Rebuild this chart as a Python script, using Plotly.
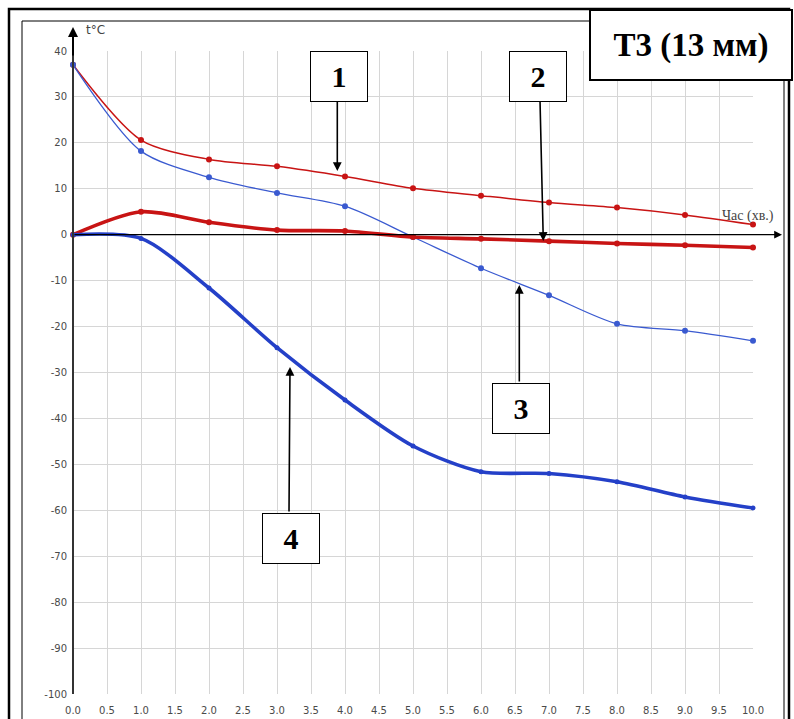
import plotly.graph_objects as go

# Time, minutes
time_min = [0, 1, 2, 3, 4, 5, 6, 7, 8, 9, 10]

# Temperatures, °C
curve_1 = [37.0, 20.6, 16.4, 14.9, 12.7, 10.1, 8.5, 7.0, 5.9, 4.3, 2.2]
curve_2 = [0.0, 5.0, 2.7, 1.0, 0.8, -0.5, -0.9, -1.4, -1.9, -2.3, -2.8]
curve_3 = [37.0, 18.2, 12.5, 9.1, 6.2, -0.5, -7.3, -13.2, -19.4, -20.9, -23.1]
curve_4 = [0.0, -0.8, -11.6, -24.6, -36.0, -46.0, -51.6, -52.0, -53.8, -57.1, -59.5]

x_ticks = [i * 0.5 for i in range(21)]
y_ticks = list(range(-100, 41, 10))

RED = "#c81414"
BLUE_THICK = "#2440c8"
BLUE_THIN = "#3a5ad0"

W, H = 794, 719
L, R, T, B = 73, 41, 51, 25
PW, PH = W - L - R, H - T - B


def px(x):
    return (x - L) / PW


def py(y):
    return (H - B - y) / PH


fig = go.Figure()

series = [
    (curve_1, RED, 1.5, 6),
    (curve_3, BLUE_THIN, 1.3, 6),
    (curve_2, RED, 3.6, 6),
    (curve_4, BLUE_THICK, 3.6, 5),
]
for vals, col, lw, ms in series:
    fig.add_trace(go.Scatter(
        x=time_min, y=vals, mode="lines+markers",
        line=dict(color=col, width=lw, shape="spline", smoothing=0.8),
        marker=dict(color=col, size=ms),
        showlegend=False, cliponaxis=False,
    ))

tick_font = dict(family="DejaVu Sans", size=10, color="#4a4a4a")
fig.update_xaxes(
    range=[0, 10], tickvals=x_ticks, ticktext=[f"{v:.1f}" for v in x_ticks],
    showgrid=True, gridcolor="#d6d6d6", gridwidth=1, zeroline=False,
    showline=False, ticks="outside", ticklen=7, tickcolor="rgba(0,0,0,0)",
    tickfont=tick_font, fixedrange=True, automargin=False,
)
fig.update_yaxes(
    range=[-100, 40], tickvals=y_ticks, ticktext=[str(v) for v in y_ticks],
    showgrid=True, gridcolor="#d6d6d6",
    gridwidth=1, zeroline=False, showline=False, ticks="outside", ticklen=3,
    tickcolor="rgba(0,0,0,0)", tickfont=tick_font, fixedrange=True,
    automargin=False,
)

shapes = []
# outer and inner frames
shapes.append(dict(type="rect", xref="paper", yref="paper",
                   x0=px(9), x1=px(789), y0=py(725), y1=py(9),
                   line=dict(color="black", width=2.5)))
shapes.append(dict(type="rect", xref="paper", yref="paper",
                   x0=px(22), x1=px(784), y0=py(725), y1=py(21),
                   line=dict(color="black", width=1)))
# vertical axis line
shapes.append(dict(type="line", xref="paper", yref="paper",
                   x0=0, x1=0, y0=0, y1=py(40),
                   line=dict(color="#333", width=2)))

annotations = []
# axis arrows
annotations.append(dict(xref="paper", yref="y", x=px(782), y=0, ax=-(782 - L), ay=0,
                        showarrow=True, arrowhead=2, arrowsize=1.3, arrowwidth=1.2,
                        arrowcolor="black", text=""))
annotations.append(dict(xref="paper", yref="paper", x=0, y=py(27), ax=0, ay=30,
                        showarrow=True, arrowhead=2, arrowsize=1, arrowwidth=2,
                        arrowcolor="black", text=""))
annotations.append(dict(xref="paper", yref="paper", x=px(84), y=py(30), text="t°C",
                        showarrow=False, xanchor="left", yanchor="middle",
                        font=dict(family="DejaVu Sans", size=12, color="#444")))
annotations.append(dict(xref="paper", yref="paper", x=px(776), y=py(216), text="Час (хв.)",
                        showarrow=False, xanchor="right", yanchor="middle",
                        font=dict(family="Liberation Serif", size=14, color="#444")))

# title box
annotations.append(dict(xref="paper", yref="paper", x=px(691), y=py(45),
                        xanchor="center", yanchor="middle",
                        text="<b>Т3 (13 мм)</b>", showarrow=False,
                        width=198, height=66, bgcolor="white",
                        bordercolor="black", borderwidth=2,
                        font=dict(family="Liberation Serif", size=33, color="black")))

# numbered pointers: (label, box centre px, tail px, tip px)
pointers = [
    ("1", (338.5, 76), (337.3, 100), (337.3, 171)),
    ("2", (538, 76), (540, 100), (543.3, 241)),
    ("3", (520.5, 408), (519.3, 383), (519.3, 285)),
    ("4", (291.3, 538), (289, 513), (290, 367)),
]
for lab, (cx, cy), (tx, ty), (hx, hy) in pointers:
    annotations.append(dict(xref="paper", yref="paper", x=px(hx), y=py(hy),
                            axref="pixel", ayref="pixel", ax=tx - hx, ay=ty - hy,
                            showarrow=True, arrowhead=2, arrowsize=1.1, arrowwidth=1.6,
                            arrowcolor="black", text=""))
    annotations.append(dict(xref="paper", yref="paper", x=px(cx), y=py(cy),
                            xanchor="center", yanchor="middle",
                            text=f"<b>{lab}</b>", showarrow=False,
                            width=54, height=47, bgcolor="white",
                            bordercolor="black", borderwidth=1,
                            font=dict(family="Liberation Serif", size=30, color="black")))

fig.update_layout(
    width=W, height=H, margin=dict(l=L, r=R, t=T, b=B),
    paper_bgcolor="white", plot_bgcolor="white",
    shapes=shapes, annotations=annotations,
)

fig.write_html("out.html", config={"displayModeBar": False})
